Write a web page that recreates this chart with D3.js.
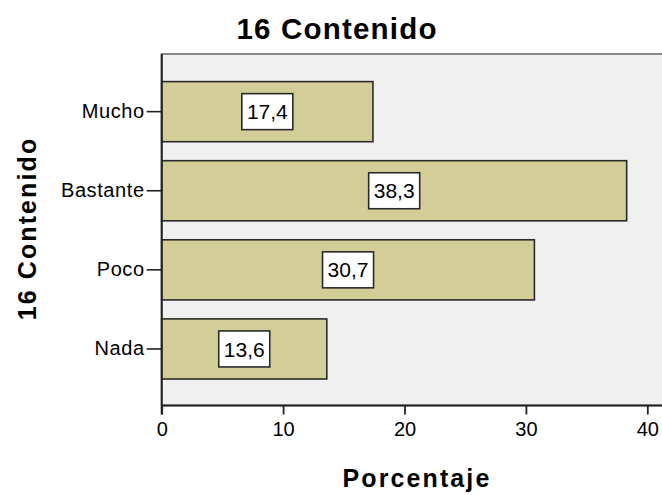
<!DOCTYPE html>
<html>
<head>
<meta charset="utf-8">
<script src="https://cdn.jsdelivr.net/npm/d3@7"></script>
<style>
  html, body { margin: 0; padding: 0; background: #ffffff; }
  svg { display: block; }
  text { font-family: Arial, "Liberation Sans", sans-serif; fill: #000; }
</style>
</head>
<body>
<svg id="chart" width="662" height="495"></svg>
<script>
// Response categories, top to bottom
const categories = ["Mucho", "Bastante", "Poco", "Nada"];
// Percentage for each category
const percentages = [17.4, 38.3, 30.7, 13.6];
// Axis ticks
const xTicks = [0, 10, 20, 30, 40];

const chartTitle = "16 Contenido";
const yTitle = "16 Contenido";
const xTitle = "Porcentaje";

const svg = d3.select("#chart");
const fmt = v => v.toFixed(1).replace(".", ",");

const plot = { left: 161.7, top: 54, bottom: 405.5, right: 700 };

const x = d3.scaleLinear().domain([0, 40]).range([161.7, 647.3]);
const y = d3.scaleBand().domain(categories).range([72.1, 388.5])
  .paddingInner(0.24).paddingOuter(0.12);

// plot background
svg.append("rect")
  .attr("x", plot.left).attr("y", plot.top)
  .attr("width", plot.right - plot.left).attr("height", plot.bottom - plot.top)
  .attr("fill", "#f0f0f0")
  .attr("stroke", "#6e6e6e").attr("stroke-width", 1.6);

const data = categories.map((c, i) => ({ cat: c, val: percentages[i] }));

// bars
svg.append("g").selectAll("rect").data(data).join("rect")
  .attr("x", x(0))
  .attr("y", d => y(d.cat))
  .attr("width", d => x(d.val) - x(0))
  .attr("height", y.bandwidth())
  .attr("fill", "#d3ce98")
  .attr("stroke", "#2a2a2a")
  .attr("stroke-width", 1.6);

// value labels in white boxes
const labels = svg.append("g").selectAll("g").data(data).join("g")
  .attr("transform", d => `translate(${(x(0) + x(d.val)) / 2},${y(d.cat) + y.bandwidth() / 2})`);
labels.append("rect")
  .attr("x", -25.5).attr("y", -18)
  .attr("width", 51).attr("height", 36)
  .attr("fill", "#ffffff")
  .attr("stroke", "#2a2a2a").attr("stroke-width", 1.6);
labels.append("text")
  .attr("text-anchor", "middle")
  .attr("y", 7.6)
  .attr("font-size", 21)
  .text(d => fmt(d.val));

// y axis
const yAxis = svg.append("g")
  .attr("transform", `translate(${plot.left},0)`)
  .call(d3.axisLeft(y).tickSize(15).tickPadding(2).tickSizeOuter(0));
yAxis.select(".domain").remove();
yAxis.selectAll(".tick line").attr("stroke", "#222").attr("stroke-width", 1.6);
yAxis.selectAll(".tick text").attr("font-size", 20).attr("font-family", "Arial, 'Liberation Sans', sans-serif").attr("fill", "#000").style("letter-spacing", "0.6px");
svg.append("line")
  .attr("x1", plot.left).attr("x2", plot.left)
  .attr("y1", plot.top).attr("y2", plot.bottom + 9)
  .attr("stroke", "#222").attr("stroke-width", 2);

// x axis
const xAxis = svg.append("g")
  .attr("transform", `translate(0,${plot.bottom})`)
  .call(d3.axisBottom(x).tickValues(xTicks).tickFormat(d3.format("d")).tickSize(9).tickPadding(7).tickSizeOuter(0));
xAxis.select(".domain").remove();
xAxis.selectAll(".tick line").attr("stroke", "#222").attr("stroke-width", 1.8);
xAxis.selectAll(".tick text").attr("font-size", 20).attr("font-family", "Arial, 'Liberation Sans', sans-serif").attr("fill", "#000");
svg.append("line")
  .attr("x1", plot.left).attr("x2", 662)
  .attr("y1", plot.bottom).attr("y2", plot.bottom)
  .attr("stroke", "#222").attr("stroke-width", 2);

// titles
svg.append("text")
  .attr("x", 337).attr("y", 38.5)
  .attr("text-anchor", "middle")
  .attr("font-size", 29.5).attr("font-weight", "bold")
  .style("letter-spacing", "1.2px")
  .text(chartTitle);

svg.append("text")
  .attr("transform", "translate(36,228.5) rotate(-90)")
  .attr("text-anchor", "middle")
  .attr("font-size", 25).attr("font-weight", "bold")
  .style("letter-spacing", "2.1px")
  .text(yTitle);

svg.append("text")
  .attr("x", 417).attr("y", 487)
  .attr("text-anchor", "middle")
  .attr("font-size", 25).attr("font-weight", "bold")
  .style("letter-spacing", "2.1px")
  .text(xTitle);
</script>
</body>
</html>
